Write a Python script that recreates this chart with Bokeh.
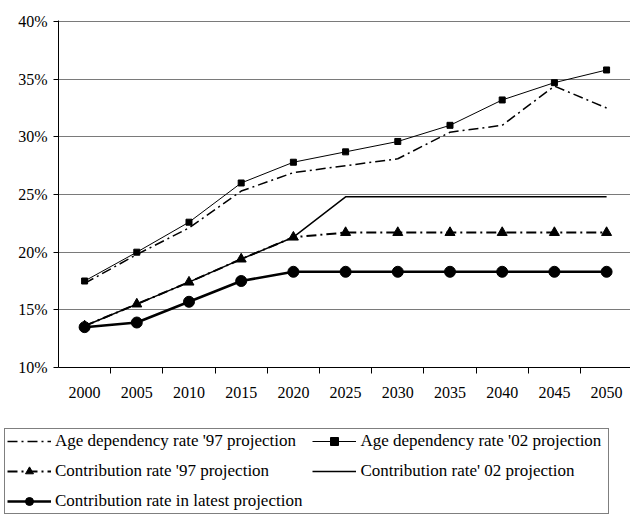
from bokeh.plotting import figure
from bokeh.layouts import column
from bokeh.models import Range1d, FixedTicker, PrintfTickFormatter, Legend, LegendItem
from bokeh.embed import file_html
from bokeh.resources import INLINE

years = ["2000", "2005", "2010", "2015", "2020", "2025", "2030", "2035", "2040", "2045", "2050"]
age97 = [17.3, 19.8, 22.1, 25.3, 26.9, 27.5, 28.1, 30.4, 31.0, 34.4, 32.5]
age02 = [17.5, 20.0, 22.6, 26.0, 27.8, 28.7, 29.6, 31.0, 33.2, 34.7, 35.8]
contrib97 = [13.6, 15.5, 17.4, 19.4, 21.3, 21.7, 21.7, 21.7, 21.7, 21.7, 21.7]
contrib02 = [13.6, 15.5, 17.4, 19.4, 21.3, 24.8, 24.8, 24.8, 24.8, 24.8, 24.8]
latest = [13.5, 13.9, 15.7, 17.5, 18.3, 18.3, 18.3, 18.3, 18.3, 18.3, 18.3]
y_ticks = [10, 15, 20, 25, 30, 35, 40]
labels = ["Age dependency rate '97 projection", "Age dependency rate '02 projection",
          "Contribution rate '97 projection", "Contribution rate' 02 projection",
          "Contribution rate in latest projection"]

FONT = "Liberation Serif"
xs = list(range(len(years)))

p = figure(width=630, height=420, output_backend="svg", toolbar_location=None,
           x_range=Range1d(-0.5, 10.458), y_range=Range1d(10, 40.09),
           min_border_left=58, min_border_right=0, min_border_top=20, min_border_bottom=53)
p.frame_align = False
p.outline_line_color = None
p.background_fill_color = "white"
p.border_fill_color = "white"

# x axis: labels at category centres, tick marks at boundaries
p.xaxis.ticker = FixedTicker(ticks=xs, minor_ticks=[i + 0.5 for i in xs[:-1]])
p.xaxis.major_label_overrides = {i: y for i, y in enumerate(years)}
p.xaxis.major_tick_out = 0
p.xaxis.major_tick_in = 0
p.xaxis.minor_tick_out = 6
p.xaxis.minor_tick_in = 0
p.xaxis.major_label_standoff = 13
p.xaxis.major_label_text_font = FONT
p.xaxis.major_label_text_font_size = "16px"
p.xaxis.major_label_text_color = "black"
p.xaxis.axis_line_color = "black"
p.xaxis.minor_tick_line_color = "black"

p.yaxis.ticker = FixedTicker(ticks=y_ticks)
p.yaxis.formatter = PrintfTickFormatter(format="%d%%")
p.yaxis.major_tick_out = 5
p.yaxis.major_tick_in = 0
p.yaxis.minor_tick_line_color = None
p.yaxis.major_label_standoff = 6
p.yaxis.major_label_text_font = FONT
p.yaxis.major_label_text_font_size = "16px"
p.yaxis.major_label_text_color = "black"
p.yaxis.axis_line_color = "black"

p.xgrid.grid_line_color = None
p.ygrid.ticker = FixedTicker(ticks=y_ticks[1:])
p.ygrid.grid_line_color = "#7a7a7a"
p.ygrid.grid_line_width = 1

styles = [
    dict(line=dict(line_color="black", line_width=1.5, line_dash="10 4 2 4"), marker=None),
    dict(line=dict(line_color="black", line_width=1), marker=dict(marker="square", size=6, color="black")),
    dict(line=dict(line_color="black", line_width=2, line_dash="10 4 2 4"), marker=dict(marker="triangle", size=10, color="black")),
    dict(line=dict(line_color="black", line_width=1.5), marker=None),
    dict(line=dict(line_color="black", line_width=2.5), marker=dict(marker="circle", size=11, color="black")),
]
series = [age97, age02, contrib97, contrib02, latest]

for vals, st in zip(series, styles):
    p.line(xs, vals, **st["line"])
    if st["marker"]:
        p.scatter(xs, vals, **st["marker"])

# legend host (separate figure below the chart so the box can sit left of the axis);
# its renderers carry the same data but its ranges keep them out of view
p2 = figure(width=630, height=95, output_backend="svg", toolbar_location=None,
            x_axis_type=None, y_axis_type=None,
            x_range=Range1d(-200, -199), y_range=Range1d(-200, -199),
            min_border_left=0, min_border_right=0, min_border_top=0, min_border_bottom=0)
p2.frame_align = False
p2.outline_line_color = None
p2.xgrid.grid_line_color = None
p2.ygrid.grid_line_color = None

items = []
for lab, vals, st in zip(labels, series, styles):
    rs = [p2.line(xs, vals, **st["line"])]
    if st["marker"]:
        rs.append(p2.scatter(xs, vals, **st["marker"]))
    items.append(LegendItem(label=lab, renderers=rs))

legend = Legend(items=items, orientation="horizontal", ncols=2, location=(4, 1), margin=0)
legend.label_text_font = FONT
legend.label_text_font_size = "17px"
legend.label_text_color = "black"
legend.glyph_width = 44
legend.glyph_height = 20
legend.label_height = 20
legend.label_width = 246
legend.label_standoff = 4
legend.spacing = 10
legend.padding = 2
legend.border_line_color = "black"
legend.border_line_width = 1
legend.background_fill_alpha = 1
p2.add_layout(legend, "center")

layout = column(p, p2, spacing=0)
open("out.html", "w").write(file_html(layout, INLINE))
